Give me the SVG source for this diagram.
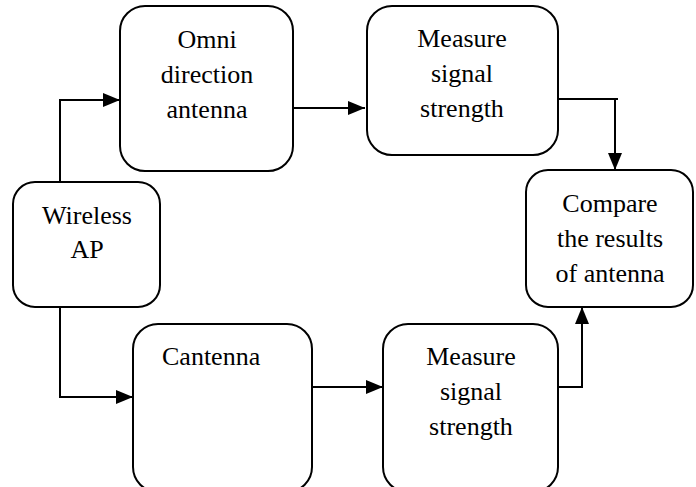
<svg xmlns="http://www.w3.org/2000/svg" width="696" height="487" viewBox="0 0 696 487">
  <defs>
    <marker id="arrow" markerUnits="userSpaceOnUse" markerWidth="17" markerHeight="14" refX="17" refY="7" orient="auto">
      <path d="M0,0 L17,7 L0,14 z" fill="#000"/>
    </marker>
    <style>
      .box { fill: #fff; stroke: #000; stroke-width: 2; }
      .lbl { font-size: 26px; fill: #000; text-anchor: middle; }
      .conn { fill: none; stroke: #000; stroke-width: 2; }
    </style>
  </defs>
  <rect width="696" height="487" fill="#fff"/>

  <g id="connectors">
    <path class="conn" d="M60,182 V100 H120" marker-end="url(#arrow)"/>
    <path class="conn" d="M293,108 H365" marker-end="url(#arrow)"/>
    <path class="conn" d="M558,99 H618"/>
    <path class="conn" d="M615,99 V170" marker-end="url(#arrow)"/>
    <path class="conn" d="M60,307 V397 H133" marker-end="url(#arrow)"/>
    <path class="conn" d="M312,387 H383" marker-end="url(#arrow)"/>
    <path class="conn" d="M558,387 H582 V307" marker-end="url(#arrow)"/>
  </g>

  <g font-family="'Liberation Serif', 'DejaVu Serif', serif">
  <g id="omni">
    <rect class="box" x="120" y="6" width="173" height="165" rx="25"/>
    <text class="lbl" x="207" y="48">Omni</text>
    <text class="lbl" x="207" y="83">direction</text>
    <text class="lbl" x="207" y="118">antenna</text>
  </g>

  <g id="measure1">
    <rect class="box" x="367" y="6" width="191" height="149" rx="25"/>
    <text class="lbl" x="462" y="47">Measure</text>
    <text class="lbl" x="462" y="82">signal</text>
    <text class="lbl" x="462" y="117">strength</text>
  </g>

  <g id="wireless">
    <rect class="box" x="13" y="182" width="147" height="125" rx="22"/>
    <text class="lbl" x="87" y="224">Wireless</text>
    <text class="lbl" x="87" y="258">AP</text>
  </g>

  <g id="compare">
    <rect class="box" x="526" y="170" width="167" height="137" rx="22"/>
    <text class="lbl" x="610" y="212">Compare</text>
    <text class="lbl" x="610" y="247">the results</text>
    <text class="lbl" x="610" y="282">of antenna</text>
  </g>

  <g id="cantenna">
    <rect class="box" x="133" y="324" width="179" height="168" rx="25"/>
    <text class="lbl" x="162" y="365" text-anchor="start" style="text-anchor:start">Cantenna</text>
  </g>

  <g id="measure2">
    <rect class="box" x="383" y="324" width="175" height="168" rx="25"/>
    <text class="lbl" x="471" y="365">Measure</text>
    <text class="lbl" x="471" y="400">signal</text>
    <text class="lbl" x="471" y="435">strength</text>
  </g>
  </g>
</svg>
